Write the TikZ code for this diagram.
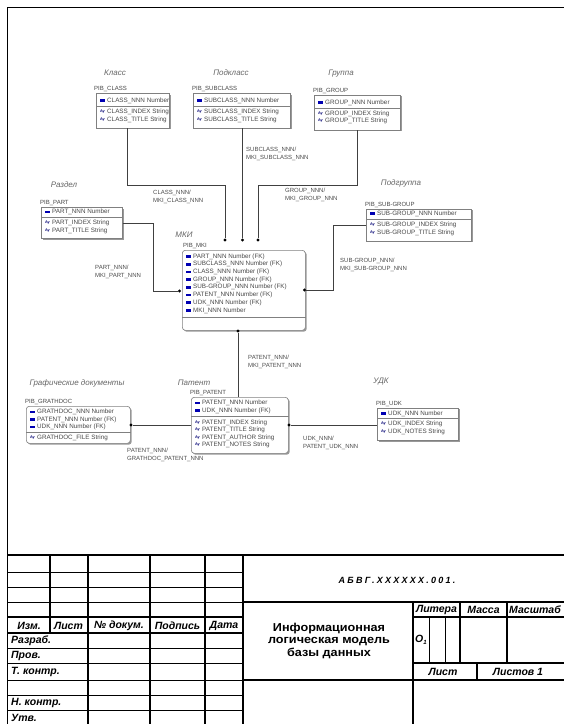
\documentclass[tikz,border=0pt]{standalone}
\usepackage{fontspec}
\setmainfont{Liberation Sans}
\newfontfamily\titlefont[FakeStretch=1.1]{Liberation Sans}
\newfontfamily\codefont[LetterSpace=25]{Liberation Sans}
\usetikzlibrary{shadows}
\newcommand\krow[4]{\node[keyico] (#1k) at (#2+6.5,#3) {};\node[attr] (#1) at (#2+11,#3) {#4};}
\newcommand\srow[4]{\node[strico] (#1k) at (#2+6.5,#3) {Ay};\node[attr] (#1) at (#2+11,#3) {#4};}
\begin{document}
\begin{tikzpicture}[x=1pt,y=-1pt,
 ent/.style={draw=black!50, fill=white, line width=0.6pt, anchor=north west, inner sep=0pt,
   drop shadow={shadow xshift=1.4pt, shadow yshift=-1.4pt, fill=black!40, opacity=1}},
 dep/.style={ent, rounded corners=3pt},
 sepl/.style={draw=black!50, line width=0.5pt},
 attr/.style={font=\fontsize{6.3}{6.5}\selectfont, text=black!72, anchor=west, inner sep=0pt},
 keyico/.style={fill=blue!70!black, minimum width=5.5pt, minimum height=2.8pt, inner sep=0pt},
 strico/.style={font=\fontsize{3.8}{4}\selectfont\bfseries, text=blue!45!black, inner sep=0pt},
 pib/.style={font=\fontsize{6}{6.5}\selectfont, text=black!72, anchor=south west, inner sep=0pt},
 ttl/.style={font=\fontsize{8}{9}\selectfont\itshape, text=black!60, inner sep=0pt},
 rlab/.style={font=\fontsize{6}{7.6}\selectfont, text=black!70, anchor=west, align=left, inner sep=0pt},
 rel/.style={draw=black!75, line width=0.6pt},
 dot/.style={circle, fill=black, inner sep=0pt, minimum size=3.4pt},
 thk/.style={line width=1.1pt},
 thn/.style={line width=0.55pt},
 stl/.style={font=\fontsize{10.5}{11}\selectfont\bfseries\itshape, inner sep=0pt},
]
\useasboundingbox (0,0) rectangle (564,724);
\fill[white] (0,0) rectangle (564,724);

% ---------- CLASS
\node[ttl] (tclass) at (115,73) {Класс};
\node[ent, minimum width=73pt, minimum height=34.5pt] (class) at (96,93) {};
\node[pib] (pclass) at (94,92) {PIB\_CLASS};
\krow{c1}{96}{100.5}{CLASS\_NNN Number}
\draw[sepl] (class.west |- 0,106.5) -- (class.east |- 0,106.5);
\srow{c2}{96}{112}{CLASS\_INDEX String}
\srow{c3}{96}{119.5}{CLASS\_TITLE String}

% ---------- SUBCLASS
\node[ttl] (tsub) at (231,73) {Подкласс};
\node[ent, minimum width=97pt, minimum height=34.5pt] (subclass) at (193,93) {};
\node[pib] (psub) at (192,92) {PIB\_SUBCLASS};
\krow{s1}{193}{100.5}{SUBCLASS\_NNN Number}
\draw[sepl] (subclass.west |- 0,106.5) -- (subclass.east |- 0,106.5);
\srow{s2}{193}{112}{SUBCLASS\_INDEX String}
\srow{s3}{193}{119.5}{SUBCLASS\_TITLE String}

% ---------- GROUP
\node[ttl] (tgroup) at (341,74) {Группа};
\node[ent, minimum width=86pt, minimum height=35pt] (group) at (314,94.5) {};
\node[pib] (pgroup) at (313,93.5) {PIB\_GROUP};
\krow{g1}{314}{102.5}{GROUP\_NNN Number}
\draw[sepl] (group.west |- 0,108) -- (group.east |- 0,108);
\srow{g2}{314}{113.5}{GROUP\_INDEX String}
\srow{g3}{314}{121}{GROUP\_TITLE String}

% ---------- PART
\node[ttl] (tpart) at (64,185) {Раздел};
\node[ent, minimum width=81pt, minimum height=31pt] (part) at (41,207) {};
\node[pib] (ppart) at (40,206) {PIB\_PART};
\krow{p1}{41}{212}{PART\_NNN Number}
\draw[sepl] (part.west |- 0,217.5) -- (part.east |- 0,217.5);
\srow{p2}{41}{223}{PART\_INDEX String}
\srow{p3}{41}{230.5}{PART\_TITLE String}

% ---------- SUB-GROUP
\node[ttl] (tsg) at (401,183) {Подгруппа};
\node[ent, minimum width=105pt, minimum height=32pt] (subgroup) at (366,208.5) {};
\node[pib] (psg) at (365,207.5) {PIB\_SUB-GROUP};
\krow{sg1}{366}{213.5}{SUB-GROUP\_NNN Number}
\draw[sepl] (subgroup.west |- 0,219.5) -- (subgroup.east |- 0,219.5);
\srow{sg2}{366}{225}{SUB-GROUP\_INDEX String}
\srow{sg3}{366}{232.5}{SUB-GROUP\_TITLE String}

% ---------- MKI
\node[ttl] (tmki) at (184,235) {МКИ};
\node[dep, minimum width=123pt, minimum height=80pt] (mki) at (182,250) {};
\node[pib] (pmki) at (183,249) {PIB\_MKI};
\krow{m1}{182}{256.5}{PART\_NNN Number (FK)}
\krow{m2}{182}{264.2}{SUBCLASS\_NNN Number (FK)}
\krow{m3}{182}{271.9}{CLASS\_NNN Number (FK)}
\krow{m4}{182}{279.6}{GROUP\_NNN Number (FK)}
\krow{m5}{182}{287.3}{SUB-GROUP\_NNN Number (FK)}
\krow{m6}{182}{295}{PATENT\_NNN Number (FK)}
\krow{m7}{182}{302.7}{UDK\_NNN Number (FK)}
\krow{m8}{182}{310.4}{MKI\_NNN Number}
\draw[sepl] (mki.west |- 0,317) -- (mki.east |- 0,317);

% ---------- PATENT
\node[ttl] (tpat) at (194,383) {Патент};
\node[dep, minimum width=97pt, minimum height=56pt] (patent) at (191,397) {};
\node[pib] (ppat) at (190,396) {PIB\_PATENT};
\krow{t1}{191}{403}{PATENT\_NNN Number}
\krow{t2}{191}{410.5}{UDK\_NNN Number (FK)}
\draw[sepl] (patent.west |- 0,416.5) -- (patent.east |- 0,416.5);
\srow{t3}{191}{422.5}{PATENT\_INDEX String}
\srow{t4}{191}{430}{PATENT\_TITLE String}
\srow{t5}{191}{437.5}{PATENT\_AUTHOR String}
\srow{t6}{191}{445}{PATENT\_NOTES String}

% ---------- UDK
\node[ttl] (tudk) at (381,382) {УДК};
\node[ent, minimum width=81pt, minimum height=32.5pt] (udk) at (377,407.5) {};
\node[pib] (pudk) at (376,406.5) {PIB\_UDK};
\krow{u1}{377}{413.5}{UDK\_NNN Number}
\draw[sepl] (udk.west |- 0,418.5) -- (udk.east |- 0,418.5);
\srow{u2}{377}{424}{UDK\_INDEX String}
\srow{u3}{377}{431.5}{UDK\_NOTES String}

% ---------- GRATHDOC
\node[ttl] (tgd) at (77,383) {Графические документы};
\node[dep, minimum width=104pt, minimum height=37pt] (grathdoc) at (26,406) {};
\node[pib] (pgd) at (25,405) {PIB\_GRATHDOC};
\krow{d1}{26}{412}{GRATHDOC\_NNN Number}
\krow{d2}{26}{419.5}{PATENT\_NNN Number (FK)}
\krow{d3}{26}{427}{UDK\_NNN Number (FK)}
\draw[sepl] (grathdoc.west |- 0,432) -- (grathdoc.east |- 0,432);
\srow{d4}{26}{438}{GRATHDOC\_FILE String}

% ---------- relationships
\node[dot] (dA) at (225,240) {};
\node[dot] (dS) at (242.5,240) {};
\node[dot] (dC) at (258,240) {};
\node[dot] (dL) at (179.5,291) {};
\node[dot] (dR) at (304.5,290) {};
\node[dot] (dB) at (238,331) {};
\node[dot] (dP) at (289,425) {};
\node[dot] (dG) at (131,425) {};

\draw[rel] ([xshift=-5.5pt]class.south) -- ++(0,57) -| (dA);
\draw[rel] (subclass.south -| dS) -- (dS);
\draw[rel] (group.south) -- ++(0,55) -| (dC);
\draw[rel] (part.east) -- ++(31,0) |- (dL);
\draw[rel] (subgroup.west) -- ++(-33,0) |- (dR);
\draw[rel] (dB) -- (dB |- patent.north);
\draw[rel] (dP) -- (dP -| udk.west);
\draw[rel] (dG) -- (dG -| patent.west);

\node[rlab] (l1) at (246,154) {SUBCLASS\_NNN/\\MKI\_SUBCLASS\_NNN};
\node[rlab] (l2) at (153,197) {CLASS\_NNN/\\MKI\_CLASS\_NNN};
\node[rlab] (l3) at (285,195) {GROUP\_NNN/\\MKI\_GROUP\_NNN};
\node[rlab] (l4) at (95,272) {PART\_NNN/\\MKI\_PART\_NNN};
\node[rlab] (l5) at (340,265) {SUB-GROUP\_NNN/\\MKI\_SUB-GROUP\_NNN};
\node[rlab] (l6) at (248,362) {PATENT\_NNN/\\MKI\_PATENT\_NNN};
\node[rlab] (l7) at (303,443) {UDK\_NNN/\\PATENT\_UDK\_NNN};
\node[rlab] (l8) at (127,455) {PATENT\_NNN/\\GRATHDOC\_PATENT\_NNN};

% ---------- frame and title block
\draw[thk] (564,7.5) -- (7.5,7.5) -- (7.5,724);
\draw[thk] (7.5,555) -- (564,555);
\foreach \yy in {572,587,602,648,663,680,695,710} \draw[thn] (7.5,\yy) -- (243,\yy);
\draw[thk] (7.5,617) -- (243,617);
\draw[thk] (7.5,633) -- (243,633);
\draw[thk] (50,555) -- (50,633);
\foreach \xx in {88,150,205,243} \draw[thk] (\xx,555) -- (\xx,724);
\draw[thk] (243,602) -- (564,602);
\draw[thk] (243,680) -- (564,680);
\draw[thk] (413,602) -- (413,724);
\draw[thk] (413,617) -- (564,617);
\draw[thk] (413,663) -- (564,663);
\draw[thk] (460,602) -- (460,663);
\draw[thk] (507,602) -- (507,663);
\draw[thn] (429,617) -- (429,663);
\draw[thn] (445,617) -- (445,663);
\draw[thk] (477,663) -- (477,680);

\node[stl] (h1) at (29,625.5) {Изм.};
\node[stl] (h2) at (68.5,625.5) {Лист};
\node[stl] (h3) at (119,625.5) {№ докум.};
\node[stl] (h4) at (177.5,625.5) {Подпись};
\node[stl] (h5) at (224,625.5) {Дата};
\node[stl, anchor=west] (r1) at (11,641) {Разраб.};
\node[stl, anchor=west] (r2) at (11,656) {Пров.};
\node[stl, anchor=west] (r3) at (11,671.5) {Т. контр.};
\node[stl, anchor=west] (r4) at (11,703) {Н. контр.};
\node[stl, anchor=west] (r5) at (11,717.5) {Утв.};

\node[inner sep=0pt, font=\codefont\fontsize{9}{9}\selectfont\bfseries\itshape] (code) at (397,580) {АБВГ.XXXXXX.001.};
\node[inner sep=0pt, align=center, font=\titlefont\fontsize{11.5}{12.5}\selectfont\bfseries] (title) at (329,640.5)
  {Информационная\\логическая модель\\базы данных};
\node[stl] (k1) at (436.5,610) {Литера};
\node[stl] (k2) at (483.5,610) {Масса};
\node[stl, anchor=west] (k3) at (509,610) {Масштаб};
\node[stl, anchor=west] (k4) at (415,640) {О\raisebox{-2pt}{\fontsize{6}{6}\selectfont 1}};
\node[stl] (k5) at (443,672) {Лист};
\node[stl] (k6) at (518,672) {Листов 1};
\end{tikzpicture}
\end{document}
